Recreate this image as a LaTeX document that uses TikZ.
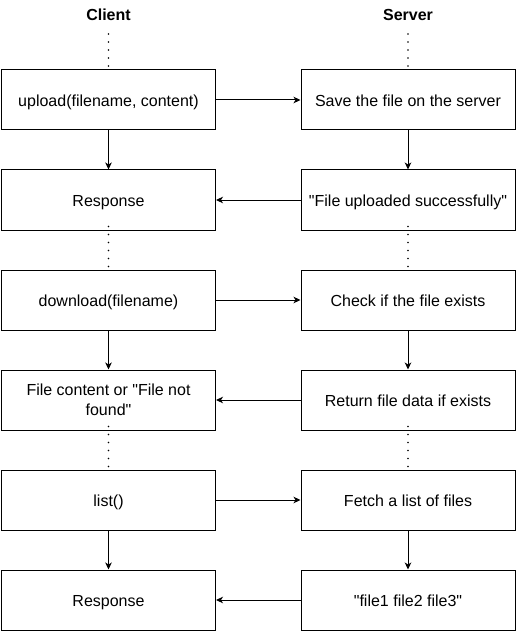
\documentclass[tikz,border=0pt]{standalone}
\usepackage{fontspec}
\setmainfont{Liberation Sans}[Ligatures=TeXOff]
\usetikzlibrary{arrows.meta}
\begin{document}
\begin{tikzpicture}[x=1pt,y=-1pt,
  box/.style={draw=black,line width=1pt,minimum width=214pt,minimum height=60pt,inner sep=0pt,align=center,text height=13.6pt,text depth=0pt,font=\fontsize{16}{20}\selectfont},
  hdr/.style={font=\fontsize{16}{20}\selectfont\bfseries},
  arr/.style={line width=1pt,-{Stealth[length=7pt,width=6.5pt,inset=2pt]}},
  dots/.style={line width=1.6pt,line cap=round,dash pattern=on 0pt off 8pt}]
\useasboundingbox (0,0) rectangle (516,631);
\node[hdr] (cl) at (108.5,15) {Client};
\node[hdr] (sv) at (408,15) {Server};
\node[box] (l1) at (108.5,100) {upload(filename, content)};
\node[box] (r1) at (408,100) {Save the file on the server};
\node[box] (l2) at (108.5,200) {Response};
\node[box] (r2) at (408,200) {"File uploaded successfully"};
\node[box] (l3) at (108.5,300) {download(filename)};
\node[box] (r3) at (408,300) {Check if the file exists};
\node[box,text height={},text depth={}] (l4) at (108.5,400) {File content or "File not\\found"};
\node[box] (r4) at (408,400) {Return file data if exists};
\node[box] (l5) at (108.5,500) {list()};
\node[box] (r5) at (408,500) {Fetch a list of files};
\node[box] (l6) at (108.5,600) {Response};
\node[box] (r6) at (408,600) {"file1 file2 file3"};
\coordinate (cl1) at (108.5,34); \coordinate (cl2) at (108.5,66);
\coordinate (sv1) at (408,34); \coordinate (sv2) at (408,66);
\draw[dots] (cl1) -- (cl2);
\draw[dots] (sv1) -- (sv2);
\draw[dots] ([yshift=4pt]l2.south) -- ([yshift=-4pt]l3.north);
\draw[dots] ([yshift=4pt]r2.south) -- ([yshift=-4pt]r3.north);
\draw[dots] ([yshift=4pt]l4.south) -- ([yshift=-4pt]l5.north);
\draw[dots] ([yshift=4pt]r4.south) -- ([yshift=-4pt]r5.north);
\draw[arr] (l1) -- (r1);
\draw[arr] (r1) -- (r2);
\draw[arr] (r2) -- (l2);
\draw[arr] (l1) -- (l2);
\draw[arr] (l3) -- (r3);
\draw[arr] (r3) -- (r4);
\draw[arr] (r4) -- (l4);
\draw[arr] (l3) -- (l4);
\draw[arr] (l5) -- (r5);
\draw[arr] (r5) -- (r6);
\draw[arr] (r6) -- (l6);
\draw[arr] (l5) -- (l6);
\end{tikzpicture}
\end{document}
